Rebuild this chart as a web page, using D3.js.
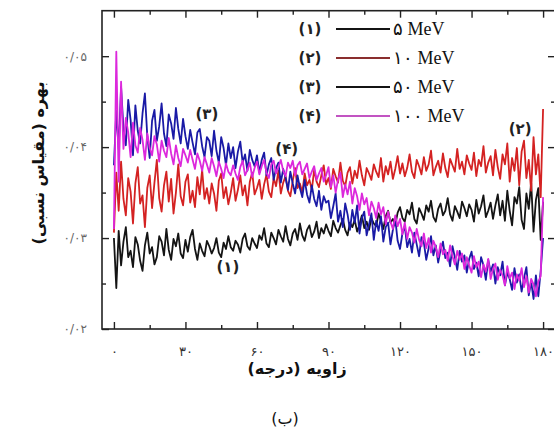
<!DOCTYPE html>
<html><head><meta charset="utf-8">
<script src="https://cdn.jsdelivr.net/npm/d3@7"></script>
<style>
html,body{margin:0;padding:0;background:#fff;}
svg{display:block;}
</style></head>
<body>
<svg id="chart" width="554" height="428"></svg>
<script>
// ---------- data ----------
const angles = d3.range(0, 181, 1); // degrees, 1° step
const seriesNames = ["۵ MeV", "۱۰ MeV", "۵۰ MeV", "۱۰۰ MeV"];
const seriesTags = ["(۱)", "(۲)", "(۳)", "(۴)"];
const xTicks = [0, 30, 60, 90, 120, 150, 180];
const xTickLabels = ["۰", "۳۰", "۶۰", "۹۰", "۱۲۰", "۱۵۰", "۱۸۰"];
const yTicks = [0.02, 0.03, 0.04, 0.05];
const yTickLabels = ["۰/۰۲", "۰/۰۳", "۰/۰۴", "۰/۰۵"];

const mev5 = [
0.0300,0.0245,0.0308,0.0270,0.0296,0.0312,0.0279,0.0286,0.0268,0.0301,
0.0293,0.0275,0.0264,0.0292,0.0306,0.0283,0.0290,0.0271,0.0279,0.0302,
0.0296,0.0281,0.0310,0.0287,0.0276,0.0299,0.0291,0.0305,0.0283,0.0278,
0.0298,0.0285,0.0301,0.0309,0.0288,0.0276,0.0294,0.0286,0.0280,0.0297,
0.0291,0.0283,0.0289,0.0300,0.0284,0.0279,0.0295,0.0288,0.0302,0.0290,
0.0286,0.0297,0.0293,0.0284,0.0299,0.0305,0.0291,0.0287,0.0300,0.0294,
0.0289,0.0303,0.0298,0.0311,0.0294,0.0290,0.0306,0.0300,0.0293,0.0309,
0.0302,0.0296,0.0313,0.0299,0.0292,0.0305,0.0310,0.0298,0.0316,0.0303,
0.0297,0.0309,0.0314,0.0301,0.0307,0.0318,0.0300,0.0311,0.0305,0.0315,
0.0308,0.0302,0.0319,0.0311,0.0306,0.0314,0.0321,0.0309,0.0303,0.0317,
0.0312,0.0320,0.0307,0.0315,0.0325,0.0311,0.0318,0.0309,0.0322,0.0316,
0.0313,0.0327,0.0319,0.0310,0.0324,0.0330,0.0317,0.0321,0.0314,0.0328,
0.0334,0.0322,0.0318,0.0331,0.0326,0.0339,0.0321,0.0316,0.0333,0.0327,
0.0320,0.0336,0.0329,0.0341,0.0323,0.0318,0.0332,0.0338,0.0325,0.0330,
0.0344,0.0326,0.0319,0.0335,0.0329,0.0322,0.0340,0.0333,0.0324,0.0337,
0.0331,0.0318,0.0342,0.0327,0.0335,0.0347,0.0323,0.0330,0.0339,0.0321,
0.0336,0.0348,0.0325,0.0341,0.0319,0.0352,0.0330,0.0314,0.0345,0.0338,
0.0356,0.0320,0.0310,0.0349,0.0332,0.0361,0.0307,0.0342,0.0355,0.0298,
0.0340];

const mev10 = [
0.0306,0.0372,0.0330,0.0384,0.0343,0.0325,0.0366,0.0351,0.0316,0.0360,
0.0378,0.0338,0.0347,0.0312,0.0355,0.0369,0.0333,0.0361,0.0386,0.0344,
0.0329,0.0358,0.0373,0.0340,0.0365,0.0327,0.0350,0.0381,0.0346,0.0336,
0.0362,0.0370,0.0339,0.0352,0.0334,0.0367,0.0348,0.0375,0.0343,0.0355,
0.0338,0.0360,0.0349,0.0330,0.0363,0.0371,0.0344,0.0356,0.0337,0.0350,
0.0366,0.0341,0.0353,0.0369,0.0347,0.0358,0.0336,0.0362,0.0372,0.0348,
0.0355,0.0364,0.0343,0.0359,0.0370,0.0351,0.0345,0.0366,0.0357,0.0374,
0.0349,0.0361,0.0368,0.0352,0.0346,0.0363,0.0377,0.0355,0.0360,0.0350,
0.0371,0.0358,0.0364,0.0353,0.0375,0.0362,0.0356,0.0369,0.0380,0.0359,
0.0366,0.0354,0.0376,0.0368,0.0361,0.0383,0.0363,0.0357,0.0372,0.0378,
0.0360,0.0374,0.0366,0.0385,0.0369,0.0358,0.0377,0.0371,0.0364,0.0381,
0.0373,0.0367,0.0388,0.0362,0.0379,0.0370,0.0384,0.0365,0.0376,0.0390,
0.0371,0.0382,0.0368,0.0377,0.0392,0.0373,0.0366,0.0386,0.0379,0.0370,
0.0389,0.0374,0.0381,0.0396,0.0369,0.0378,0.0385,0.0372,0.0393,0.0377,
0.0367,0.0387,0.0380,0.0373,0.0398,0.0376,0.0384,0.0370,0.0391,0.0382,
0.0375,0.0394,0.0368,0.0386,0.0379,0.0401,0.0372,0.0383,0.0390,0.0369,
0.0397,0.0378,0.0365,0.0392,0.0381,0.0404,0.0362,0.0388,0.0374,0.0399,
0.0358,0.0395,0.0407,0.0366,0.0386,0.0352,0.0411,0.0370,0.0392,0.0345,
0.0442];

const mev50 = [
0.0380,0.0440,0.0398,0.0466,0.0421,0.0402,0.0452,0.0430,0.0391,0.0446,
0.0418,0.0404,0.0437,0.0459,0.0412,0.0388,0.0429,0.0441,0.0407,0.0423,
0.0448,0.0415,0.0401,0.0436,0.0426,0.0409,0.0443,0.0420,0.0404,0.0431,
0.0412,0.0398,0.0419,0.0405,0.0392,0.0416,0.0420,0.0401,0.0389,0.0411,
0.0407,0.0390,0.0418,0.0396,0.0383,0.0411,0.0399,0.0380,0.0404,0.0388,
0.0400,0.0377,0.0395,0.0406,0.0383,0.0392,0.0374,0.0397,0.0386,0.0379,
0.0391,0.0372,0.0386,0.0394,0.0369,0.0381,0.0388,0.0364,0.0377,0.0383,
0.0361,0.0376,0.0366,0.0353,0.0373,0.0360,0.0349,0.0369,0.0355,0.0345,
0.0364,0.0348,0.0339,0.0358,0.0343,0.0335,0.0352,0.0331,0.0346,0.0339,
0.0341,0.0322,0.0335,0.0349,0.0318,0.0330,0.0312,0.0338,0.0326,0.0309,
0.0331,0.0317,0.0336,0.0305,0.0322,0.0329,0.0303,0.0315,0.0327,0.0298,
0.0319,0.0308,0.0324,0.0296,0.0312,0.0317,0.0293,0.0309,0.0321,0.0297,
0.0288,0.0305,0.0313,0.0290,0.0299,0.0284,0.0306,0.0293,0.0280,0.0301,
0.0295,0.0276,0.0289,0.0302,0.0281,0.0292,0.0273,0.0287,0.0296,0.0278,
0.0284,0.0269,0.0291,0.0279,0.0265,0.0286,0.0274,0.0281,0.0262,0.0277,
0.0285,0.0266,0.0273,0.0258,0.0279,0.0270,0.0254,0.0276,0.0263,0.0271,
0.0250,0.0268,0.0259,0.0274,0.0248,0.0262,0.0255,0.0243,0.0267,0.0251,
0.0260,0.0241,0.0256,0.0268,0.0237,0.0252,0.0233,0.0259,0.0236,0.0264,
0.0300];

const mev100 = [
0.0310,0.0505,0.0362,0.0472,0.0398,0.0432,0.0416,0.0389,0.0427,0.0402,
0.0394,0.0421,0.0408,0.0386,0.0415,0.0399,0.0391,0.0412,0.0403,0.0384,
0.0407,0.0396,0.0389,0.0410,0.0393,0.0381,0.0402,0.0388,0.0379,0.0398,
0.0391,0.0383,0.0397,0.0386,0.0376,0.0393,0.0385,0.0374,0.0389,0.0381,
0.0372,0.0388,0.0379,0.0368,0.0384,0.0376,0.0366,0.0382,0.0373,0.0369,
0.0380,0.0371,0.0364,0.0378,0.0385,0.0369,0.0375,0.0383,0.0367,0.0377,
0.0384,0.0370,0.0379,0.0386,0.0372,0.0366,0.0381,0.0385,0.0371,0.0378,
0.0386,0.0374,0.0368,0.0383,0.0377,0.0385,0.0369,0.0380,0.0384,0.0370,
0.0376,0.0382,0.0366,0.0373,0.0379,0.0364,0.0371,0.0377,0.0362,0.0369,
0.0378,0.0356,0.0369,0.0350,0.0364,0.0372,0.0345,0.0359,0.0348,0.0362,
0.0338,0.0355,0.0346,0.0331,0.0349,0.0337,0.0344,0.0325,0.0340,0.0333,
0.0322,0.0339,0.0326,0.0334,0.0315,0.0329,0.0318,0.0310,0.0325,0.0313,
0.0321,0.0304,0.0317,0.0299,0.0312,0.0306,0.0295,0.0310,0.0298,0.0291,
0.0305,0.0289,0.0300,0.0284,0.0297,0.0290,0.0279,0.0294,0.0282,0.0287,
0.0275,0.0292,0.0280,0.0271,0.0286,0.0276,0.0283,0.0266,0.0279,0.0270,
0.0262,0.0280,0.0268,0.0274,0.0257,0.0271,0.0263,0.0277,0.0255,0.0266,
0.0272,0.0254,0.0265,0.0259,0.0248,0.0269,0.0256,0.0262,0.0244,0.0260,
0.0253,0.0267,0.0246,0.0258,0.0240,0.0255,0.0249,0.0236,0.0252,0.0258,
0.0345];

const seriesValues = [mev5, mev10, mev50, mev100];
const lineColors = ["#141414", "#d42222", "#1a1aa6", "#dc28dc"];
const legendColors = ["#141414", "#8a2e2e", "#141414", "#c254c2"];

// ---------- layout ----------
const svg = d3.select("#chart");
const L = 102, R = 555, T = 10.7, B = 329;
const x = d3.scaleLinear().domain([-5, 185]).range([L, R]);
const y = d3.scaleLinear().domain([0.02, 0.055]).range([B, T]);
const sansFont = "'DejaVu Sans', sans-serif";

// series lines
const line = d3.line().x((d, i) => x(angles[i])).y(d => y(d));
const gLines = svg.append("g");
seriesValues.forEach((vals, k) => {
  gLines.append("path").datum(vals)
    .attr("d", line)
    .attr("fill", "none")
    .attr("stroke", lineColors[k])
    .attr("stroke-width", 1.8)
    .attr("stroke-linejoin", "round");
});

// axes (inward ticks)
const xMinor = [15, 45, 75, 105, 135, 165];
const yMinor = [0.025, 0.035, 0.045];
function styleAxis(g) {
  g.select(".domain").remove();
  g.selectAll(".tick line").attr("stroke", "#222").attr("stroke-width", 1.4);
}
svg.append("g").attr("transform", `translate(0,${B})`)
  .call(d3.axisBottom(x).tickValues(xTicks).tickSizeInner(-7).tickSizeOuter(0).tickPadding(18)
    .tickFormat((d, i) => xTickLabels[i]))
  .call(styleAxis)
  .call(g => g.selectAll("text").attr("font-family", sansFont).attr("font-size", 13).attr("fill", "#333"));
svg.append("g").attr("transform", `translate(0,${B})`)
  .call(d3.axisBottom(x).tickValues(xMinor).tickSizeInner(-4).tickSizeOuter(0).tickFormat(""))
  .call(styleAxis);
svg.append("g").attr("transform", `translate(0,${T})`)
  .call(d3.axisTop(x).tickValues(xTicks).tickSizeInner(-7).tickSizeOuter(0).tickFormat(""))
  .call(styleAxis);
svg.append("g").attr("transform", `translate(0,${T})`)
  .call(d3.axisTop(x).tickValues(xMinor).tickSizeInner(-4).tickSizeOuter(0).tickFormat(""))
  .call(styleAxis);
svg.append("g").attr("transform", `translate(${L},0)`)
  .call(d3.axisLeft(y).tickValues(yTicks).tickSizeInner(-7).tickSizeOuter(0).tickPadding(15)
    .tickFormat((d, i) => yTickLabels[i]))
  .call(styleAxis)
  .call(g => g.selectAll("text").attr("font-family", sansFont).attr("font-size", 12).attr("fill", "#666"));
svg.append("g").attr("transform", `translate(${L},0)`)
  .call(d3.axisLeft(y).tickValues(yMinor).tickSizeInner(-4).tickSizeOuter(0).tickFormat(""))
  .call(styleAxis);
svg.append("g").attr("transform", `translate(${R},0)`)
  .call(d3.axisRight(y).tickValues(yTicks).tickSizeInner(-7).tickSizeOuter(0).tickFormat(""))
  .call(styleAxis);
svg.append("g").attr("transform", `translate(${R},0)`)
  .call(d3.axisRight(y).tickValues(yMinor).tickSizeInner(-4).tickSizeOuter(0).tickFormat(""))
  .call(styleAxis);

// frame
svg.append("rect").attr("x", L).attr("y", T).attr("width", R - L).attr("height", B - T)
  .attr("fill", "none").attr("stroke", "#222").attr("stroke-width", 1.6);

// legend
const legRowY = [29, 58, 87, 116];
const leg = svg.append("g");
seriesNames.forEach((name, k) => {
  const yy = legRowY[k];
  leg.append("text").attr("x", 310).attr("y", yy).attr("dy", "0.35em")
    .attr("text-anchor", "middle").attr("font-family", sansFont).attr("font-weight", "bold")
    .attr("font-size", 15).attr("fill", "#222").text(seriesTags[k]);
  leg.append("line").attr("x1", 336).attr("x2", 390).attr("y1", yy).attr("y2", yy)
    .attr("stroke", legendColors[k]).attr("stroke-width", 1.8);
  leg.append("text").attr("x", 393).attr("y", yy).attr("dy", "0.35em")
    .attr("font-family", "'Liberation Serif', 'Times New Roman', serif")
    .attr("font-size", 18).attr("fill", "#111").text(name);
});

// annotations on curves
const annotations = [
  { t: "(۳)", ax: 39, ay: 0.0437 },
  { t: "(۴)", ax: 72.5, ay: 0.0398 },
  { t: "(۱)", ax: 47.8, ay: 0.0268 },
  { t: "(۲)", ax: 170.4, ay: 0.0420 }
];
annotations.forEach(a => {
  svg.append("text").attr("x", x(a.ax)).attr("y", y(a.ay)).attr("dy", "0.35em")
    .attr("text-anchor", "middle").attr("font-family", sansFont).attr("font-weight", "bold")
    .attr("font-size", 15).attr("fill", "#222").text(a.t);
});

// axis titles
svg.append("text").attr("x", 297).attr("y", 368).attr("dy", "0.35em")
  .attr("text-anchor", "middle").attr("direction", "rtl").style("direction", "rtl")
  .attr("font-family", sansFont).attr("font-weight", "bold").attr("font-size", 16)
  .attr("fill", "#111").text("زاویه (درجه)");
svg.append("text").attr("x", 285).attr("y", 418).attr("dy", "0.35em")
  .attr("text-anchor", "middle").attr("direction", "rtl").style("direction", "rtl")
  .attr("font-family", sansFont).attr("font-size", 16)
  .attr("fill", "#111").text("(ب)");
svg.append("text").attr("transform", "translate(38,163) rotate(-90)").attr("dy", "0.35em")
  .attr("text-anchor", "middle").attr("direction", "rtl").style("direction", "rtl")
  .attr("font-family", sansFont).attr("font-weight", "bold").attr("font-size", 16)
  .attr("fill", "#111").text("بهره (مقیاس نسبی)");
</script>
</body></html>
